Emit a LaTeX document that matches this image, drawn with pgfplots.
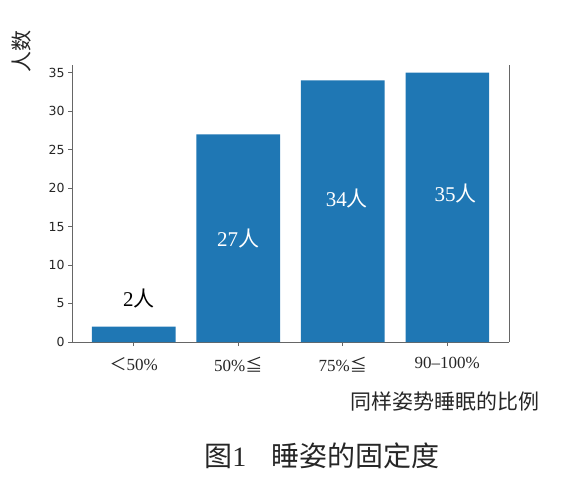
\documentclass[border=0pt]{standalone}
\usepackage{pgfplots}
\pgfplotsset{compat=1.18}
\usepackage{fontspec}
\setmainfont{Liberation Serif}
\newfontfamily\cjk{Noto Sans CJK SC}
\newfontfamily\dejavu{DejaVu Sans}
\definecolor{barblue}{HTML}{1F77B4}
\definecolor{spine}{HTML}{666666}
\begin{document}
\begin{tikzpicture}[x=1pt,y=1pt]
\useasboundingbox (0,0) rectangle (588,-486);
\begin{axis}[
  at={(72pt,-342pt)}, anchor=south west,
  scale only axis, width=437pt, height=277pt,
  xmin=-0.59, xmax=3.59, ymin=0, ymax=36,
  axis x line*=bottom, axis y line*=left,
  axis line style={spine, line width=0.9pt, -},
  ybar, bar width=0.8,
  xtick={0,1,2,3},
  xticklabels={{\cjk ＜}50\%, 50\%{\cjk ≦}, 75\%{\cjk ≦}, 90–100\%},
  ytick={0,5,10,15,20,25,30,35},
  tick align=outside, major tick length=4pt,
  tick style={spine, line width=0.8pt},
  yticklabel style={font=\dejavu\fontsize{12.5}{13}\selectfont, text=black!85},
  xticklabel style={font=\fontsize{17}{18}\selectfont, text=black!85, yshift=-8pt},
  /pgf/number format/assume math mode=true,
  clip=false,
]
\addplot[fill=barblue, draw=none] coordinates {(0,2) (1,27) (2,34) (3,35)};
\draw[spine, line width=0.9pt] (rel axis cs:1,0) -- (rel axis cs:1,1);
\node[font=\fontsize{21}{22}\selectfont, text=black] at (axis cs:0.05,5.7) {2{\cjk 人}};
\node[font=\fontsize{21}{22}\selectfont, text=white] at (axis cs:1,13.5) {27{\cjk 人}};
\node[font=\fontsize{21}{22}\selectfont, text=white] at (axis cs:2.04,18.6) {34{\cjk 人}};
\node[font=\fontsize{21}{22}\selectfont, text=white] at (axis cs:3.08,19.3) {35{\cjk 人}};
\end{axis}
\node[rotate=90, font=\cjk\fontsize{21}{22}\selectfont, text=black!85] at (22,-52) {人数};
\node[anchor=east, font=\cjk\fontsize{21}{22}\selectfont, text=black!85] at (543,-402) {同样姿势睡眠的比例};
\node[font=\cjk\fontsize{28}{30}\selectfont, text=black!85] at (322,-456) {图{\rmfamily 1}\hspace{0.9em}睡姿的固定度};
\end{tikzpicture}
\end{document}
